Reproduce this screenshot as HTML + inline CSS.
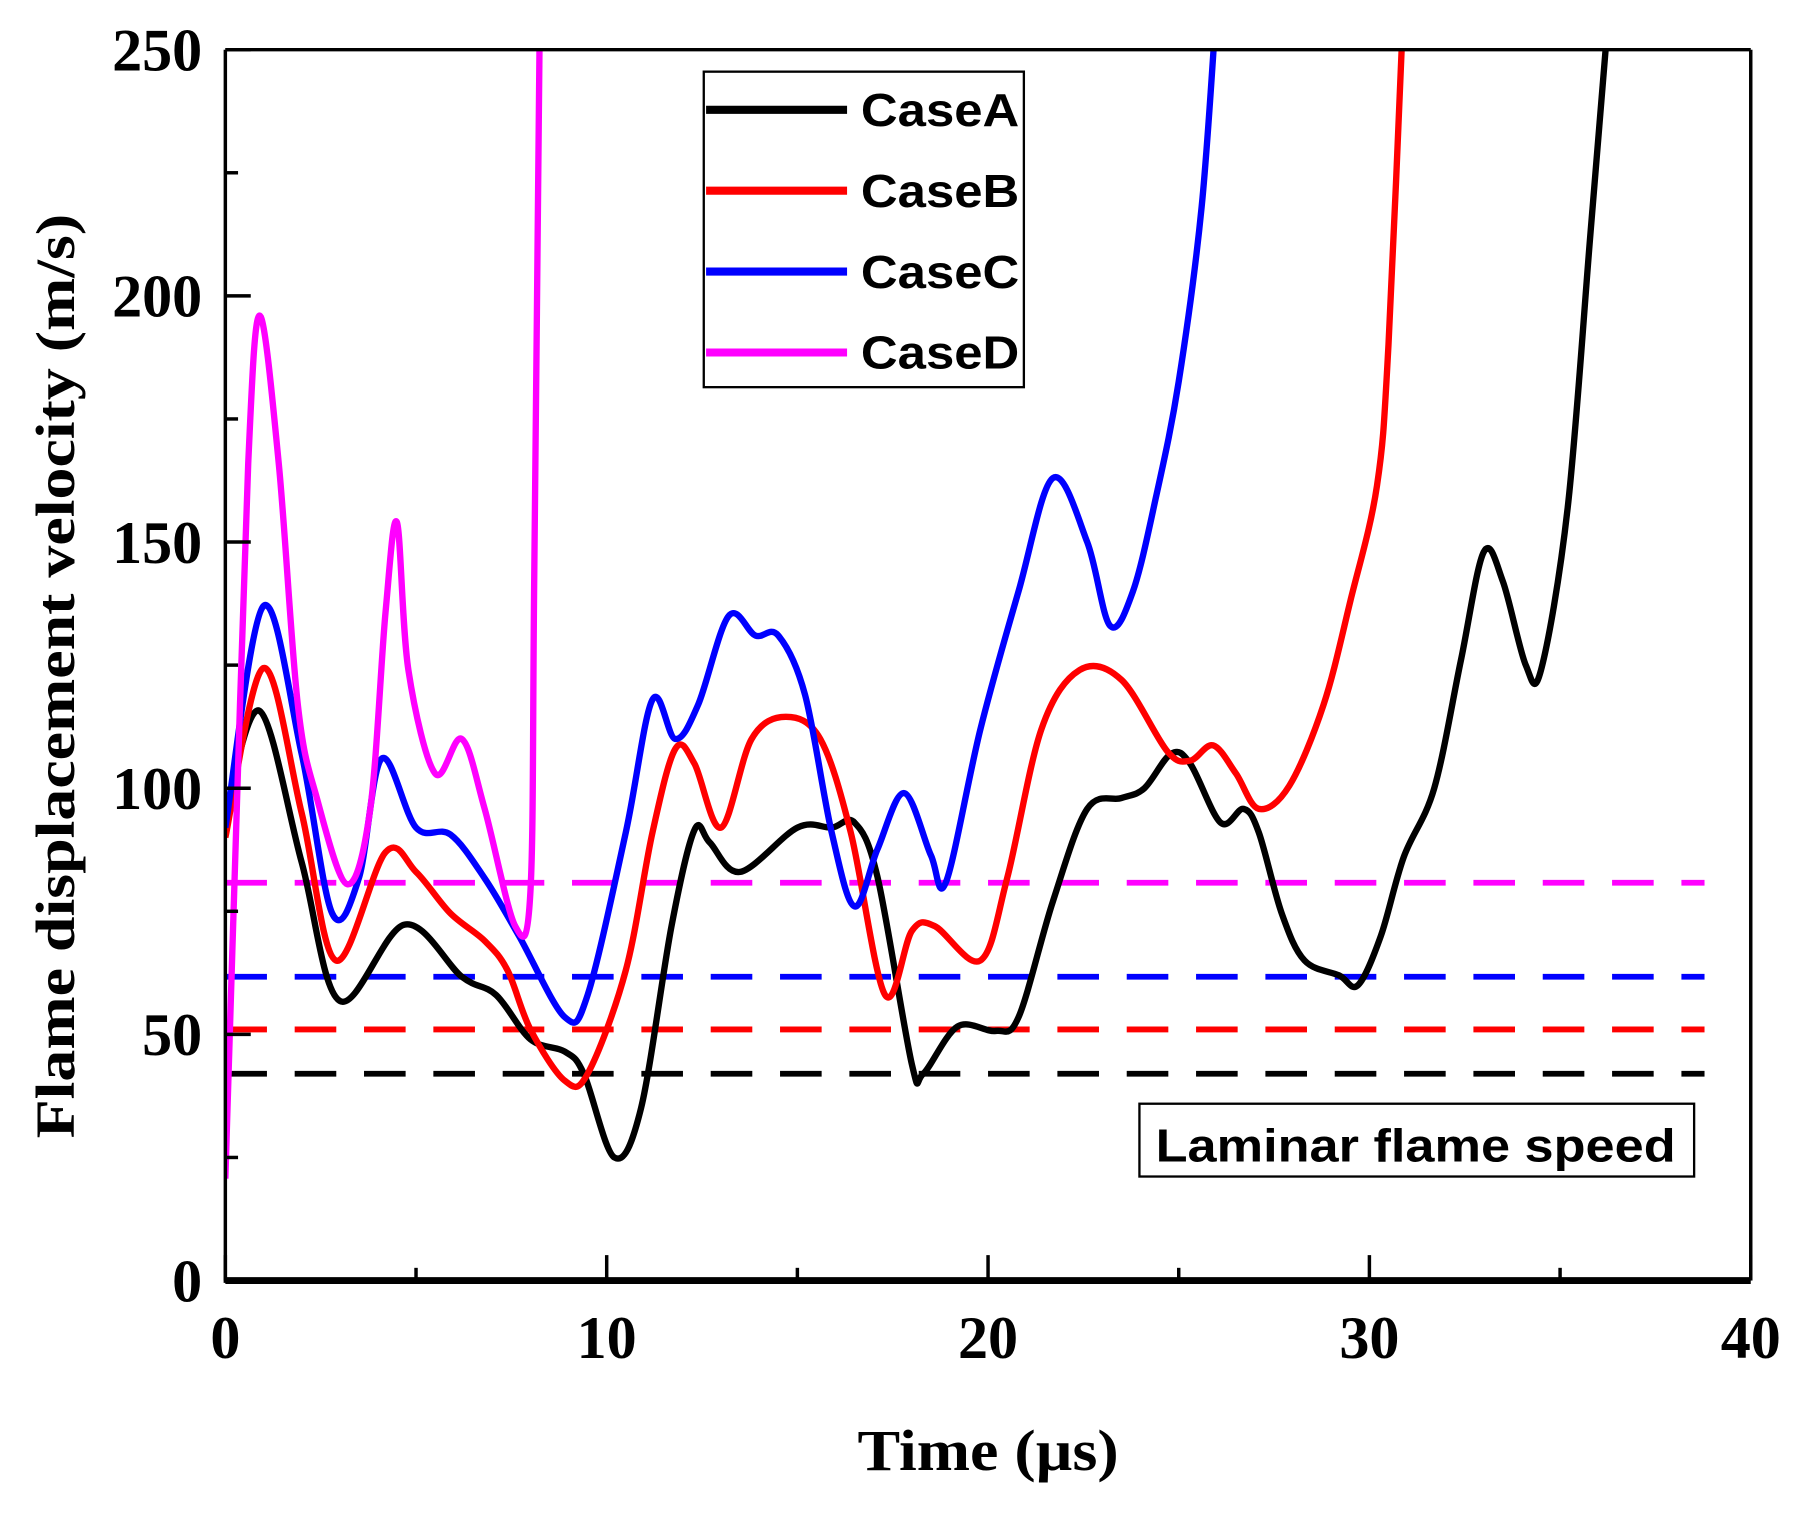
<!DOCTYPE html>
<html><head><meta charset="utf-8"><style>html,body{margin:0;padding:0;background:#fff}svg{display:block}</style></head>
<body>
<svg id="chart" width="1812" height="1514" viewBox="0 0 1568 1310" preserveAspectRatio="none" xmlns="http://www.w3.org/2000/svg">
<defs><clipPath id="clip"><rect x="195" y="43" width="1320" height="1065"/></clipPath></defs>
<g id="marks" clip-path="url(#clip)"></g>
<g id="axes"></g>
<text transform="translate(64,585) rotate(-90)" text-anchor="middle" font-family="Liberation Serif, serif" font-weight="bold" font-size="48" textLength="800" lengthAdjust="spacingAndGlyphs">Flame displacement velocity (m/s)</text>
<text x="855" y="1272" text-anchor="middle" font-family="Liberation Serif, serif" font-weight="bold" font-size="50" textLength="226" lengthAdjust="spacingAndGlyphs">Time (µs)</text>
<g>
<rect x="609" y="62" width="277" height="273" fill="#fff" stroke="#000" stroke-width="2"/>
</g>
<g>
<rect x="986" y="955" width="480" height="63" fill="#fff" stroke="#000" stroke-width="2"/>
<text x="1000" y="1005" font-family="Liberation Sans, sans-serif" font-weight="bold" font-size="40" textLength="450" lengthAdjust="spacingAndGlyphs">Laminar flame speed</text>
</g>
<g id="legendItems"></g>
</svg>
<script>
const xTicks=[0,10,20,30,40];
const xMinor=[5,15,25,35];
const yTicks=[0,50,100,150,200,250];
const yMinor=[25,75,125,175,225];
const seriesNames=["CaseA","CaseB","CaseC","CaseD"];
const seriesColors=["#000000","#ff0000","#0000ff","#ff00ff"];
const laminarSpeeds=[42,51,61.7,80.8];
const tA=[0,0.9,2.0,3.0,4.7,6.2,7.1,8.0,8.9,9.4,10.2,10.9,11.7,12.3,12.7,13.5,15,15.9,16.5,17.1,18,18.3,19.2,20.2,20.8,21.7,22.6,23.5,24.1,24.8,25.3,26.1,26.7,27.1,27.7,28.3,29.2,29.7,30.3,30.9,31.7,32.4,33.0,33.5,34.1,34.5,35.2,35.8,36.3];
const vA=[95,115.7,85,56.8,72.3,61.7,58,49,46.5,42,25,35,72,91.5,89,83,92,92,93,82,44,42,51.6,50.7,53.5,77,95.8,98,100,107,105,93,95.8,91,74.6,65,62,60,70,86,100,126,148,142,125,124,157,213,260];
const tB=[0,1.0,2.0,2.9,4.2,5.0,5.9,6.8,7.4,8.0,8.9,9.5,10.5,11.2,11.8,12.3,13.0,13.8,14.7,15.6,16.4,17.3,18,18.6,19.8,20.5,21.4,22.4,23.5,24.7,25.3,25.9,26.5,27.1,27.9,28.8,29.5,30.2,30.5,30.9];
const vB=[90,124.4,95,65,87,83,74.6,69,63,51,40.6,42,63,91,108,105,92,110,114.5,110,91,58,71,72,65,81.7,112,124,122,107.5,105.6,108.7,103,95.8,100.5,117,138,161.5,190,260];
const tC=[0,1.0,2.0,2.8,3.5,4.1,5.0,5.9,6.8,7.7,8.9,9.5,10.5,11.2,11.8,12.4,13.2,13.9,14.5,15.2,15.9,16.5,17.1,17.8,18.5,18.9,19.8,20.8,21.7,22.6,23.2,23.8,24.4,25,25.6,26.0];
const vC=[92,137,107,74.6,81.7,106,92,90.6,81.7,70,53.5,58,91,118,110,117,135,131,131,119,91,76,87.6,99,86.4,81,112,140,163,150,133,140,159,182.6,218,260];
const tD=[0,0.3,0.6,0.9,1.4,1.9,2.4,3.2,3.8,4.2,4.5,4.8,5.5,6.2,6.8,7.6,8.0,8.1,8.25];
const vD=[20.7,95.8,166,196,166,117,98,80.5,95.8,135.7,154,124,103,110,95.8,72,79,143,260];
const seriesT=[tA,tB,tC,tD];
const seriesV=[vA,vB,vC,vD];
const NS="http://www.w3.org/2000/svg";
const L=195,R=1515,T=43,B=1108;
const xs=t=>L+(t-0)/(40-0)*(R-L);
const ys=v=>B-(v-0)/(250-0)*(B-T);
function el(tag,attrs,parent){const e=document.createElementNS(NS,tag);for(const k in attrs)e.setAttribute(k,attrs[k]);parent.appendChild(e);return e;}
const marks=document.getElementById('marks'),axes=document.getElementById('axes'),leg=document.getElementById('legendItems');
function smooth(pts){let d=`M${pts[0][0]},${pts[0][1]}`;for(let i=0;i<pts.length-1;i++){const p0=pts[Math.max(0,i-1)],p1=pts[i],p2=pts[i+1],p3=pts[Math.min(pts.length-1,i+2)];const c1=[p1[0]+(p2[0]-p0[0])/6,p1[1]+(p2[1]-p0[1])/6],c2=[p2[0]-(p3[0]-p1[0])/6,p2[1]-(p3[1]-p1[1])/6];d+=` C${c1[0]},${c1[1]} ${c2[0]},${c2[1]} ${p2[0]},${p2[1]}`;}return d;}
laminarSpeeds.forEach((s,i)=>{
 const ln=el('line',{x1:L,x2:1475,y1:ys(s),y2:ys(s),stroke:seriesColors[i],'stroke-width':5,'stroke-dasharray':'36 24'},marks);
 
 
});
[0,1,2,3].forEach(i=>{
 const pts=seriesT[i].map((t,j)=>[xs(t),ys(seriesV[i][j])]);
 const p=el('path',{d:smooth(pts),fill:'none',stroke:seriesColors[i],'stroke-width':5.5,'stroke-linejoin':'round'},marks);
 
 
});
el('line',{x1:L,x2:R,y1:T,y2:T,stroke:'#000','stroke-width':3},axes);
el('line',{x1:R,x2:R,y1:T,y2:B,stroke:'#000','stroke-width':3},axes);
el('line',{x1:L,x2:L,y1:T,y2:B+2,stroke:'#000','stroke-width':3},axes);
el('line',{x1:L,x2:R,y1:B,y2:B,stroke:'#000','stroke-width':6},axes);
xTicks.forEach(t=>{
 el('line',{x1:xs(t),x2:xs(t),y1:B,y2:B-22,stroke:'#000','stroke-width':3},axes);
 const tx=el('text',{x:xs(t),y:1175,'text-anchor':'middle','font-family':'Liberation Serif, serif','font-weight':'bold','font-size':52},axes);
 tx.textContent=t;
 
 
});
xMinor.forEach(t=>el('line',{x1:xs(t),x2:xs(t),y1:B,y2:B-11,stroke:'#000','stroke-width':3},axes));
yTicks.forEach(v=>{
 el('line',{x1:L,x2:L+22,y1:ys(v),y2:ys(v),stroke:'#000','stroke-width':3},axes);
 const tx=el('text',{x:175,y:ys(v)+18,'text-anchor':'end','font-family':'Liberation Serif, serif','font-weight':'bold','font-size':52},axes);
 tx.textContent=v;
 
 
});
yMinor.forEach(v=>el('line',{x1:L,x2:L+11,y1:ys(v),y2:ys(v),stroke:'#000','stroke-width':3},axes));
seriesNames.forEach((n,i)=>{
 const y=95+i*70;
 const ln=el('line',{x1:611,x2:733,y1:y,y2:y,stroke:seriesColors[i],'stroke-width':7},leg);
 
 
 const tx=el('text',{x:745,y:y+14,'font-family':'Liberation Sans, sans-serif','font-weight':'bold','font-size':40,textLength:137,lengthAdjust:'spacingAndGlyphs'},leg);
 tx.textContent=n;
 
 
});
</script>
</body></html>
